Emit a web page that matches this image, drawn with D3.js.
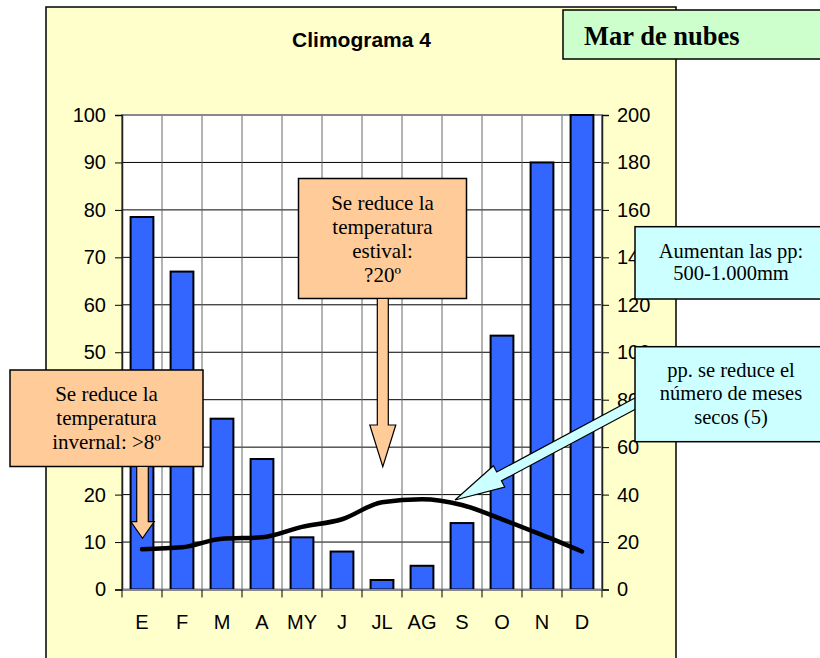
<!DOCTYPE html>
<html>
<head>
<meta charset="utf-8">
<script src="https://cdn.jsdelivr.net/npm/d3@7"></script>
<style>
  html, body { margin: 0; padding: 0; background: #ffffff; }
  svg { display: block; }
</style>
</head>
<body>
<svg id="chart" width="820" height="658"></svg>
<script>
// ---- data ----
const months = ["E","F","M","A","MY","J","JL","AG","S","O","N","D"];
const precipitation = [157,134,72,55,22,16,4,10,28,107,180,200];
const temperature = [8.5,8.9,10.7,11.0,13.2,14.8,18.4,19.0,17.8,14.8,11.5,8.0];
const tempTicks = [0,10,20,30,40,50,60,70,80,90,100];
const precipTicks = [0,20,40,60,80,100,120,140,160,180,200];
const title = "Climograma 4";
const place = "Mar de nubes";
const noteWinter = ["Se reduce la","temperatura","invernal: >8º"];
const noteSummer = ["Se reduce la","temperatura","estival:","?20º"];
const notePrecip = ["Aumentan las pp:","500-1.000mm"];
const noteDry = ["pp. se reduce el","número de meses","secos (5)"];

const svg = d3.select("#chart");
const L = 122, R = 602, T = 115, B = 589.5;

// chart area background
svg.append("rect").attr("x",46).attr("y",7).attr("width",630).attr("height",700)
  .attr("fill","#FFFFCC").attr("stroke","#000").attr("stroke-width",1.5);

svg.append("text").attr("x",361.5).attr("y",46.5).attr("text-anchor","middle")
  .attr("font-family","Liberation Sans, Arial, sans-serif").attr("font-weight","bold")
  .attr("font-size",21).attr("fill","#000").text(title);

const x = d3.scaleBand().domain(months).range([L, R]).paddingInner(0.43).paddingOuter(0.215);
const xb = d3.scaleBand().domain(months).range([L, R]);
const yT = d3.scaleLinear().domain([0,100]).range([B, T]);
const yP = d3.scaleLinear().domain([0,200]).range([B, T]);

// plot background
svg.append("rect").attr("x",L).attr("y",T).attr("width",R-L).attr("height",B-T).attr("fill","#fff");

// gridlines
svg.append("g").selectAll("line").data(tempTicks.slice(1)).join("line")
  .attr("x1",L).attr("x2",R).attr("y1",d=>yT(d)).attr("y2",d=>yT(d))
  .attr("stroke","#000").attr("stroke-width",1);
svg.append("g").selectAll("line").data(months.slice(1)).join("line")
  .attr("x1",d=>xb(d)).attr("x2",d=>xb(d)).attr("y1",T).attr("y2",B)
  .attr("stroke","#666").attr("stroke-width",1);
svg.append("rect").attr("x",L).attr("y",T).attr("width",R-L).attr("height",B-T)
  .attr("fill","none").attr("stroke","#888").attr("stroke-width",2);

// bars
svg.append("g").selectAll("rect").data(precipitation).join("rect")
  .attr("x",(d,i)=>x(months[i])).attr("width",x.bandwidth())
  .attr("y",d=>yP(d)).attr("height",d=>B-yP(d))
  .attr("fill","#3366FF").attr("stroke","#000").attr("stroke-width",2);

// axes
const axFont = "Liberation Sans, Arial, sans-serif";
const gl = svg.append("g").attr("transform",`translate(${L},0)`)
  .call(d3.axisLeft(yT).tickValues(tempTicks).tickSize(7).tickPadding(9));
const gr = svg.append("g").attr("transform",`translate(${R},0)`)
  .call(d3.axisRight(yP).tickValues(precipTicks).tickSize(7).tickPadding(8));
const gb = svg.append("g").attr("transform",`translate(0,${B})`)
  .call(d3.axisBottom(xb).tickSize(0).tickPadding(25));
[gl,gr,gb].forEach(g=>{
  g.selectAll("text").attr("font-family",axFont).attr("font-size",20).attr("fill","#000");
  g.select(".domain").attr("stroke","#222").attr("stroke-width",1.5);
  g.selectAll(".tick line").attr("stroke","#000");
});
gb.select(".domain").attr("stroke","#888").attr("stroke-width",2);
svg.append("g").selectAll("line").data(months.concat(["_end"])).join("line")
  .attr("x1",(d,i)=>L+xb.step()*i).attr("x2",(d,i)=>L+xb.step()*i)
  .attr("y1",B).attr("y2",B+8).attr("stroke","#000");

// temperature line
svg.append("path").datum(temperature)
  .attr("d", d3.line().x((d,i)=>xb(months[i])+xb.bandwidth()/2).y(d=>yT(d)).curve(d3.curveMonotoneX))
  .attr("fill","none").attr("stroke","#000").attr("stroke-width",4.5).attr("stroke-linecap","round");

// helpers
function box(x0,y0,x1,y1,fill){
  svg.append("rect").attr("x",x0).attr("y",y0).attr("width",x1-x0).attr("height",y1-y0)
    .attr("fill",fill).attr("stroke","#000").attr("stroke-width",1.5);
}
function lines(arr,cx,baselines,size){
  arr.forEach((t,i)=>svg.append("text").attr("x",cx).attr("y",baselines[i]).attr("text-anchor","middle")
    .attr("font-family","Liberation Serif, Times New Roman, serif").attr("font-size",size).attr("fill","#000").text(t));
}
function downArrow(cx,y0,headY,tipY,sw,hw,fill){
  const p = [[cx-sw,y0],[cx+sw,y0],[cx+sw,headY],[cx+hw,headY],[cx,tipY],[cx-hw,headY],[cx-sw,headY]];
  svg.append("path").attr("d","M"+p.map(q=>q.join(",")).join("L")+"Z")
    .attr("fill",fill).attr("stroke","#000").attr("stroke-width",1.2);
}
function blockArrow(tail,tip,sw,hw,hl,fill){
  const dx=tip[0]-tail[0], dy=tip[1]-tail[1], len=Math.hypot(dx,dy);
  const ux=dx/len, uy=dy/len, nx=-uy, ny=ux;
  const P=(a,b)=>[tail[0]+ux*a+nx*b, tail[1]+uy*a+ny*b];
  const p=[P(0,-sw),P(len-hl,-sw),P(len-hl,-hw),P(len,0),P(len-hl,hw),P(len-hl,sw),P(0,sw)];
  svg.append("path").attr("d","M"+p.map(q=>q.join(",")).join("L")+"Z")
    .attr("fill",fill).attr("stroke","#000").attr("stroke-width",1.2);
}

// annotations
box(298.5,178.5,466.5,298.5,"#FFCC99");
lines(noteSummer,382.5,[209.5,233.5,257.5,281.5],21);
downArrow(382.8,298.5,425,466.7,5.5,13,"#FFCC99");

box(10,370,203,466.5,"#FFCC99");
lines(noteWinter,106.5,[400.5,425,449.3],21);
downArrow(142.5,466.5,521.7,538.3,5.8,11.7,"#FFCC99");

blockArrow([640,401],[455,500],5,12,50,"#CCFFFF");

box(563,10,830,59,"#CCFFCC");
svg.append("text").attr("x",584).attr("y",44.5)
  .attr("font-family","Liberation Serif, Times New Roman, serif").attr("font-weight","bold")
  .attr("font-size",26.5).attr("fill","#000").text(place);

box(635,226.7,827,299,"#CCFFFF");
lines(notePrecip,731,[258.3,280],20.5);
box(635,346.7,827,441.7,"#CCFFFF");
lines(noteDry,731,[376.7,400,424],20.5);
</script>
</body>
</html>
